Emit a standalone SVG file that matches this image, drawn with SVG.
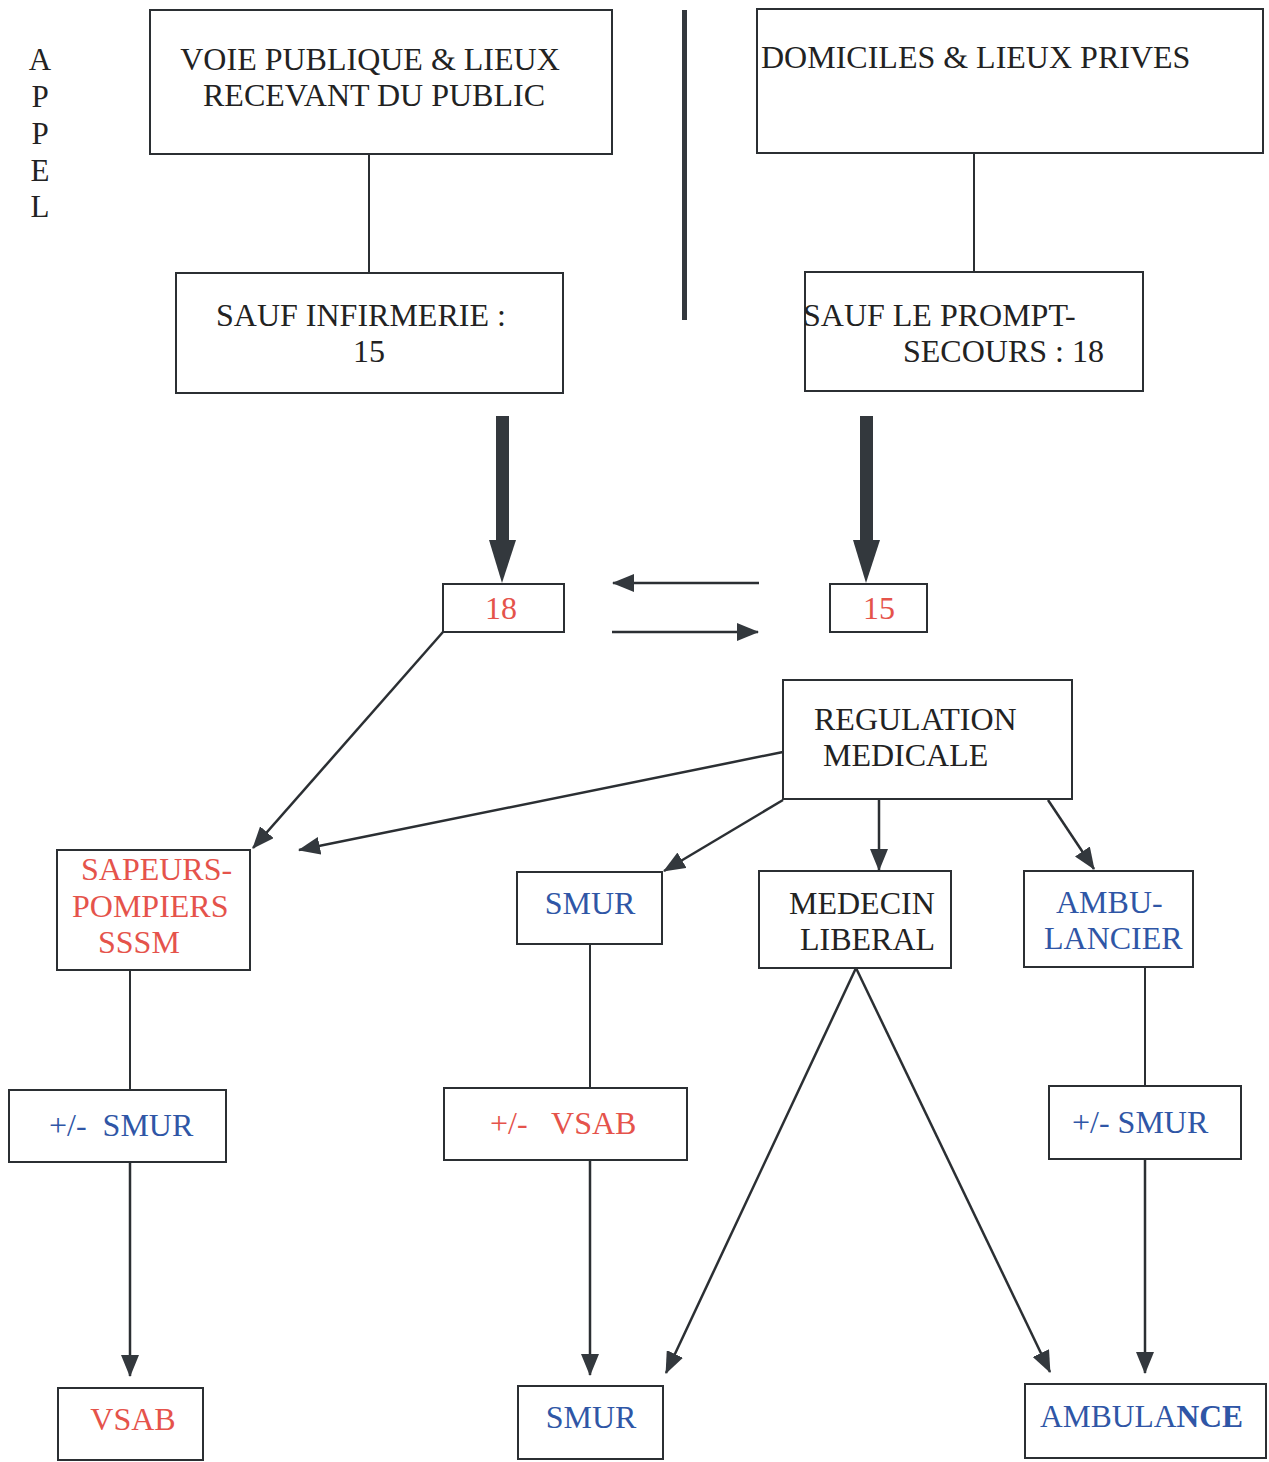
<svg xmlns="http://www.w3.org/2000/svg" width="1269" height="1462" viewBox="0 0 1269 1462">
  <style>
    .box { fill: #fff; stroke: #2b2f33; stroke-width: 2; }
    .t { font-family: "Liberation Serif", Tinos, "Times New Roman", "DejaVu Serif", serif; font-size: 32px; fill: #222; }
    .red { fill: #e5534b; }
    .blue { fill: #2f56a6; }
    .link { stroke: #2b2f33; stroke-width: 2; fill: none; }
    .arrow { stroke: #2b2f33; stroke-width: 2.5; fill: none; marker-end: url(#head); }
    .thick { fill: #33383d; }
  </style>
  <defs>
    <marker id="head" markerUnits="userSpaceOnUse" markerWidth="22" markerHeight="18" refX="21" refY="9" orient="auto">
      <path d="M0,0 L22,9 L0,18 z" fill="#33383d"/>
    </marker>
  </defs>
  <rect width="1269" height="1462" fill="#fff"/>

  <!-- vertical caption -->
  <g id="appel" class="t" text-anchor="middle" style="font-size: 31px">
    <text x="40" y="70">A</text>
    <text x="40" y="107">P</text>
    <text x="40" y="144">P</text>
    <text x="40" y="181">E</text>
    <text x="40" y="217">L</text>
  </g>

  <!-- divider between the two call origins -->
  <rect x="682" y="10" width="5" height="310" fill="#33383d"/>

  <!-- connectors -->
  <g id="connectors">
    <line class="link" x1="369" y1="154" x2="369" y2="273"/>
    <line class="link" x1="974" y1="153" x2="974" y2="272"/>

    <!-- thick call arrows -->
    <rect class="thick" x="496" y="416" width="13" height="128"/>
    <polygon class="thick" points="489,540 516,540 502,583"/>
    <rect class="thick" x="860" y="416" width="13" height="128"/>
    <polygon class="thick" points="853,540 880,540 866,583"/>

    <!-- exchange between 18 and 15 -->
    <line class="arrow" x1="759" y1="583" x2="613" y2="583"/>
    <line class="arrow" x1="612" y1="632" x2="758" y2="632"/>

    <line class="arrow" x1="443" y1="632" x2="253" y2="848"/>
    <line class="arrow" x1="783" y1="752" x2="299" y2="850"/>
    <line class="arrow" x1="783" y1="800" x2="664" y2="871"/>
    <line class="arrow" x1="879" y1="800" x2="879" y2="870"/>
    <line class="arrow" x1="1048" y1="800" x2="1094" y2="869"/>

    <line class="link" x1="130" y1="970" x2="130" y2="1090"/>
    <line class="arrow" x1="130" y1="1162" x2="130" y2="1376"/>

    <line class="link" x1="590" y1="944" x2="590" y2="1088"/>
    <line class="arrow" x1="590" y1="1160" x2="590" y2="1375"/>

    <line class="arrow" x1="856" y1="968" x2="666" y2="1373"/>
    <line class="arrow" x1="856" y1="968" x2="1050" y2="1372"/>

    <line class="link" x1="1145" y1="967" x2="1145" y2="1086"/>
    <line class="arrow" x1="1145" y1="1159" x2="1145" y2="1373"/>
  </g>

  <g id="voie-publique">
    <rect class="box" x="150" y="10" width="462" height="144"/>
    <text class="t" x="370" y="70" text-anchor="middle">VOIE PUBLIQUE &amp; LIEUX</text>
    <text class="t" x="374" y="106" text-anchor="middle">RECEVANT DU PUBLIC</text>
  </g>

  <g id="sauf-infirmerie">
    <rect class="box" x="176" y="273" width="387" height="120"/>
    <text class="t" x="216" y="326">SAUF INFIRMERIE :</text>
    <text class="t" x="369" y="362" text-anchor="middle">15</text>
  </g>

  <g id="domiciles">
    <rect class="box" x="757" y="9" width="506" height="144"/>
    <text class="t" x="761" y="68">DOMICILES &amp; LIEUX PRIVES</text>
  </g>

  <g id="sauf-prompt-secours">
    <rect class="box" x="805" y="272" width="338" height="119"/>
    <text class="t" x="803" y="326">SAUF LE PROMPT-</text>
    <text class="t" x="903" y="362">SECOURS : 18</text>
  </g>

  <g id="num-18">
    <rect class="box" x="443" y="584" width="121" height="48"/>
    <text class="t red" x="501" y="619" text-anchor="middle">18</text>
  </g>

  <g id="num-15">
    <rect class="box" x="830" y="584" width="97" height="48"/>
    <text class="t red" x="879" y="619" text-anchor="middle">15</text>
  </g>

  <g id="regulation">
    <rect class="box" x="783" y="680" width="289" height="119"/>
    <text class="t" x="814" y="730">REGULATION</text>
    <text class="t" x="823" y="766">MEDICALE</text>
  </g>

  <g id="sapeurs-pompiers">
    <rect class="box" x="57" y="850" width="193" height="120"/>
    <text class="t red" x="81" y="880">SAPEURS-</text>
    <text class="t red" x="72" y="917">POMPIERS</text>
    <text class="t red" x="98" y="953">SSSM</text>
  </g>

  <g id="smur">
    <rect class="box" x="517" y="872" width="145" height="72"/>
    <text class="t blue" x="590" y="914" text-anchor="middle">SMUR</text>
  </g>

  <g id="medecin-liberal">
    <rect class="box" x="759" y="871" width="192" height="97"/>
    <text class="t" x="789" y="914">MEDECIN</text>
    <text class="t" x="800" y="950">LIBERAL</text>
  </g>

  <g id="ambulancier">
    <rect class="box" x="1024" y="871" width="169" height="96"/>
    <text class="t blue" x="1056" y="913">AMBU-</text>
    <text class="t blue" x="1044" y="949">LANCIER</text>
  </g>

  <g id="pm-smur-left">
    <rect class="box" x="9" y="1090" width="217" height="72"/>
    <text class="t blue" x="49" y="1136" xml:space="preserve">+/-  SMUR</text>
  </g>

  <g id="pm-vsab">
    <rect class="box" x="444" y="1088" width="243" height="72"/>
    <text class="t red" x="490" y="1134" xml:space="preserve">+/-   VSAB</text>
  </g>

  <g id="pm-smur-right">
    <rect class="box" x="1049" y="1086" width="192" height="73"/>
    <text class="t blue" x="1072" y="1133">+/- SMUR</text>
  </g>

  <g id="vsab">
    <rect class="box" x="58" y="1388" width="145" height="72"/>
    <text class="t red" x="133" y="1430" text-anchor="middle">VSAB</text>
  </g>

  <g id="smur-final">
    <rect class="box" x="518" y="1386" width="145" height="73"/>
    <text class="t blue" x="591" y="1428" text-anchor="middle">SMUR</text>
  </g>

  <g id="ambulance">
    <rect class="box" x="1025" y="1384" width="241" height="74"/>
    <text class="t blue" x="1040" y="1427" style="font-size: 31.5px">AMBULA<tspan font-weight="bold">NCE</tspan></text>
  </g>
</svg>
